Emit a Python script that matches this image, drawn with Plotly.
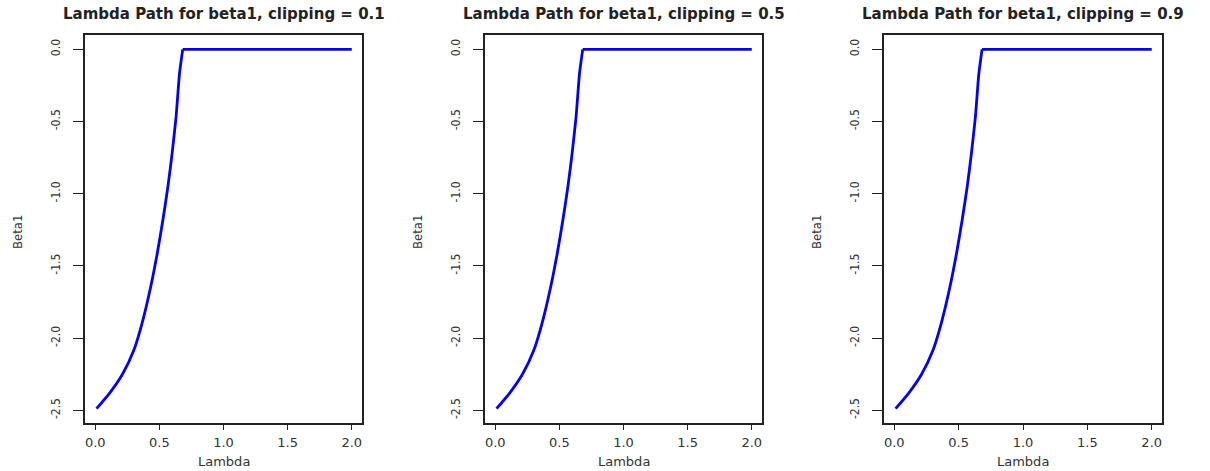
import plotly.graph_objects as go

# Lambda path for beta1 (soft-thresholded estimate), same path for each clipping level
lambda_vals = [0.01, 0.109, 0.212, 0.302, 0.367, 0.432, 0.483, 0.527, 0.566,
               0.599, 0.630, 0.657, 0.682, 1.0, 1.5, 2.0]
beta1_vals = [-2.488, -2.384, -2.250, -2.080, -1.890, -1.646, -1.415, -1.184,
              -0.954, -0.722, -0.469, -0.168, 0.0, 0.0, 0.0, 0.0]

clipping_levels = ["0.1", "0.5", "0.9"]
x_tick_vals = [0.0, 0.5, 1.0, 1.5, 2.0]
x_tick_text = ["0.0", "0.5", "1.0", "1.5", "2.0"]
y_tick_vals = [0.0, -0.5, -1.0, -1.5, -2.0, -2.5]
y_tick_text = ["0.0", "-0.5", "-1.0", "-1.5", "-2.0", "-2.5"]

# index where the path reaches zero (curved part before, flat part after)
kink = beta1_vals.index(0.0)

W, H = 1210, 471
panel_px = [(85, 362), (485, 762), (884, 1162)]
box_top, box_bottom = 35, 423

narrow = "Liberation Sans Narrow, DejaVu Sans Condensed, Arial Narrow, sans-serif"
wide = "DejaVu Sans, Verdana, sans-serif"

fig = go.Figure()
layout = dict(
    width=W, height=H,
    margin=dict(l=0, r=0, t=0, b=0),
    paper_bgcolor="white", plot_bgcolor="white",
    showlegend=False,
    annotations=[],
)

ydom = [1 - box_bottom / H, 1 - box_top / H]
for i, clip in enumerate(clipping_levels):
    n = "" if i == 0 else str(i + 1)
    xa, ya = "x" + n, "y" + n
    # smooth shrinking part
    fig.add_trace(go.Scatter(
        x=lambda_vals[:kink + 1], y=beta1_vals[:kink + 1], mode="lines",
        line=dict(color="#0000FF", width=2.8, shape="spline", smoothing=0.6),
        xaxis=xa, yaxis=ya, hoverinfo="skip",
    ))
    # flat part at zero
    fig.add_trace(go.Scatter(
        x=lambda_vals[kink:], y=beta1_vals[kink:], mode="lines",
        line=dict(color="#0000FF", width=2.8),
        xaxis=xa, yaxis=ya, hoverinfo="skip",
    ))
    x0, x1 = panel_px[i]
    layout["xaxis" + n] = dict(
        domain=[x0 / W, x1 / W], anchor=ya, range=[-0.08, 2.08],
        showgrid=False, zeroline=False,
        showline=True, mirror=True, linecolor="#222", linewidth=1.5,
        ticks="outside", ticklen=5, tickwidth=1, tickcolor="#222",
        tickvals=x_tick_vals, ticktext=x_tick_text,
        tickfont=dict(family=wide, size=13, color="#333"),
        ticklabelstandoff=2,
    )
    layout["yaxis" + n] = dict(
        domain=ydom, anchor=xa, range=[-2.5875, 0.0995],
        showgrid=False, zeroline=False,
        showline=True, mirror=True, linecolor="#222", linewidth=1.5,
        ticks="outside", ticklen=10, tickwidth=1, tickcolor="#222",
        tickvals=y_tick_vals, ticktext=y_tick_text, tickangle=-90,
        tickfont=dict(family=narrow, size=12, color="#333"),
        ticklabelstandoff=8,
    )
    cx = (x0 + x1) / 2 / W
    layout["annotations"] += [
        dict(text="<b>Lambda Path for beta1, clipping = %s</b>" % clip,
             xref="paper", yref="paper", x=cx, y=1 - 14 / H,
             xanchor="center", yanchor="middle", showarrow=False,
             font=dict(family=wide, size=15, color="#222")),
        dict(text="Lambda", xref="paper", yref="paper", x=cx, y=1 - 461 / H,
             xanchor="center", yanchor="middle", showarrow=False,
             font=dict(family=wide, size=13, color="#333")),
        dict(text="Beta1", xref="paper", yref="paper", x=(x0 - 68) / W,
             y=1 - 232 / H, xanchor="center", yanchor="middle",
             showarrow=False, textangle=-90,
             font=dict(family=narrow, size=13, color="#333")),
    ]

fig.update_layout(**layout)
fig.write_html("out.html")
